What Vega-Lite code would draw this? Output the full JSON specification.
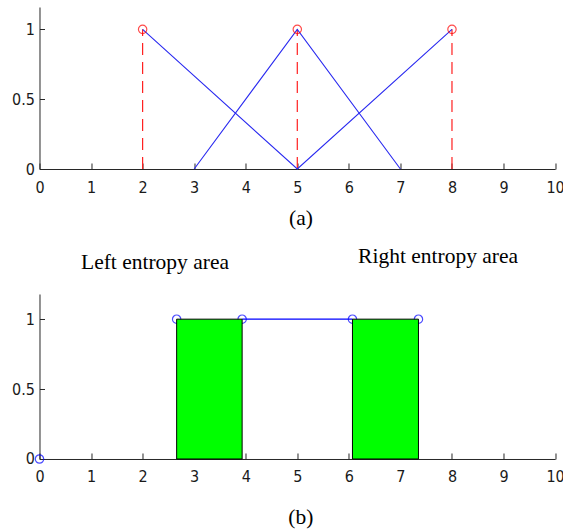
{
  "$schema": "https://vega.github.io/schema/vega-lite/v6.json",
  "padding": {"left": 11.5, "top": 7, "right": 0, "bottom": 0},
  "bounds": "flush",
  "spacing": 125,
  "background": "white",
  "config": {
    "view": {"stroke": null},
    "axis": {
      "grid": false,
      "domainColor": "#262626",
      "tickColor": "#262626",
      "domainWidth": 1,
      "tickWidth": 1,
      "labelFont": "DejaVu Sans Condensed, Liberation Sans, sans-serif",
      "labelFontSize": 16,
      "labelColor": "#1a1a1a",
      "title": null
    },
    "axisX": {"tickSize": -6, "labelPadding": 16, "labelFlush": false},
    "axisY": {"tickSize": -5, "labelPadding": 10, "labelFlush": false},
    "text": {"font": "Liberation Serif", "fontSize": 21.5, "color": "black", "align": "center", "baseline": "alphabetic"}
  },
  "datasets": {
    "stems": [
      {"x": 2, "y0": 0, "y1": 1},
      {"x": 5, "y0": 0, "y1": 1},
      {"x": 8, "y0": 0, "y1": 1}
    ],
    "memberships": [
      {"series": "A", "x": 2, "y": 1},
      {"series": "A", "x": 5, "y": 0},
      {"series": "A", "x": 8, "y": 1},
      {"series": "B", "x": 3, "y": 0},
      {"series": "B", "x": 5, "y": 1},
      {"series": "B", "x": 7, "y": 0}
    ],
    "labelsA": [
      {"x": 5.07, "y": -0.4, "label": "(a)"}
    ],
    "bars": [
      {"x0": 2.66, "x1": 3.93, "y0": 0, "y1": 1},
      {"x0": 6.07, "x1": 7.35, "y0": 0, "y1": 1}
    ],
    "link": [
      {"x": 3.93, "y": 1},
      {"x": 6.07, "y": 1}
    ],
    "circlesB": [
      {"x": 0, "y": 0},
      {"x": 2.66, "y": 1},
      {"x": 3.93, "y": 1},
      {"x": 6.07, "y": 1},
      {"x": 7.35, "y": 1}
    ],
    "labelsB": [
      {"x": 2.24, "y": 1.36, "label": "Left entropy area"},
      {"x": 7.73, "y": 1.405, "label": "Right entropy area"},
      {"x": 5.07, "y": -0.465, "label": "(b)"}
    ]
  },
  "vconcat": [
    {
      "width": 515.6,
      "height": 162,
      "layer": [
        {
          "data": {"name": "stems"},
          "mark": {"type": "rule", "color": "#ff2020", "strokeWidth": 1.2, "strokeDash": [12, 7]},
          "encoding": {
            "x": {"field": "x", "type": "quantitative", "scale": {"domain": [0, 10], "nice": false, "zero": false}, "axis": {"values": [0,1,2,3,4,5,6,7,8,9,10]}},
            "y": {"field": "y0", "type": "quantitative", "scale": {"domain": [0, 1.16], "nice": false}, "axis": {"values": [0, 0.5, 1], "format": "~g"}},
            "y2": {"field": "y1"}
          }
        },
        {
          "data": {"name": "memberships"},
          "mark": {"type": "line", "color": "#2a2af0", "strokeWidth": 1.1},
          "encoding": {
            "x": {"field": "x", "type": "quantitative"},
            "y": {"field": "y", "type": "quantitative"},
            "detail": {"field": "series"}
          }
        },
        {
          "data": {"name": "stems"},
          "mark": {"type": "point", "shape": "circle", "filled": false, "color": "#ff0000", "size": 70, "strokeWidth": 1.2},
          "encoding": {
            "x": {"field": "x", "type": "quantitative"},
            "y": {"field": "y1", "type": "quantitative"}
          }
        },
        {
          "data": {"name": "labelsA"},
          "mark": {"type": "text"},
          "encoding": {
            "x": {"field": "x", "type": "quantitative"},
            "y": {"field": "y", "type": "quantitative"},
            "text": {"field": "label"}
          }
        }
      ]
    },
    {
      "width": 515.6,
      "height": 165,
      "layer": [
        {
          "data": {"name": "link"},
          "mark": {"type": "line", "color": "#0000ff", "strokeWidth": 1.1},
          "encoding": {
            "x": {"field": "x", "type": "quantitative", "scale": {"domain": [0, 10], "nice": false, "zero": false}, "axis": {"values": [0,1,2,3,4,5,6,7,8,9,10]}},
            "y": {"field": "y", "type": "quantitative", "scale": {"domain": [0, 1.18], "nice": false}, "axis": {"values": [0, 0.5, 1], "format": "~g"}}
          }
        },
        {
          "data": {"name": "circlesB"},
          "mark": {"type": "point", "shape": "circle", "filled": false, "color": "#0000ff", "size": 70, "strokeWidth": 1.2},
          "encoding": {
            "x": {"field": "x", "type": "quantitative"},
            "y": {"field": "y", "type": "quantitative"}
          }
        },
        {
          "data": {"name": "bars"},
          "mark": {"type": "rect", "fill": "#00ff00", "stroke": "#000000", "strokeWidth": 1},
          "encoding": {
            "x": {"field": "x0", "type": "quantitative"},
            "x2": {"field": "x1"},
            "y": {"field": "y1", "type": "quantitative"},
            "y2": {"field": "y0"}
          }
        },
        {
          "data": {"name": "labelsB"},
          "mark": {"type": "text"},
          "encoding": {
            "x": {"field": "x", "type": "quantitative"},
            "y": {"field": "y", "type": "quantitative"},
            "text": {"field": "label"}
          }
        }
      ]
    }
  ]
}
